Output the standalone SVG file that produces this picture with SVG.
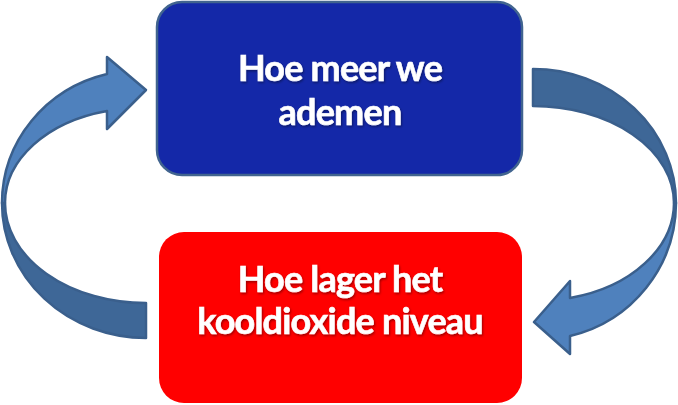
<svg xmlns="http://www.w3.org/2000/svg" width="678" height="405" viewBox="0 0 678 405">
<defs>
<style>
.light{fill:#4F81BD;stroke:#3A5F8C;stroke-width:2.5;stroke-linejoin:round}
.dark{fill:#3E6797;stroke:#3A5F8C;stroke-width:2.5;stroke-linejoin:round}
.lbl{font-family:Lato,"Liberation Sans",sans-serif;font-weight:700;font-size:36px;letter-spacing:-0.8px;fill:#FFFFFF;stroke:#FFFFFF;stroke-width:0.6px;text-anchor:middle}
</style>
<filter id="sh" x="-10%" y="-30%" width="120%" height="160%">
<feDropShadow dx="1" dy="1.5" stdDeviation="1" flood-color="#000000" flood-opacity="0.4"/>
</filter>
</defs>
<rect width="678" height="405" fill="#FFFFFF"/>
<g id="connectors">
<path class="dark" d="M 2 203 A 144 135 0 0 0 146 338 L 146 303 A 141 100 0 0 1 5 203 Z"/>
<path class="light" d="M 2 203 A 138 133 0 0 1 107 74 L 107 57 L 146 90 L 107 129 L 107 111 A 135 95 0 0 0 5 203 Z"/>
<path class="dark" d="M 533 69 A 143 134 0 0 1 676 203 L 674 203 A 141 97 0 0 0 533 106 Z"/>
<path class="light" d="M 676 203 A 138 137 0 0 1 570 336 L 570 354 L 534 322 L 570 281 L 570 298 A 136 98 0 0 0 674 203 Z"/>
</g>
<g id="node-ademen">
<rect x="157" y="2" width="365" height="173" rx="25" ry="25" fill="#1428A8" stroke="#41648F" stroke-width="2.5"/>
<text class="lbl" filter="url(#sh)"><tspan x="340" y="81">Hoe meer we</tspan><tspan x="340" y="125">ademen</tspan></text>
</g>
<g id="node-kooldioxide">
<rect x="159" y="232" width="363" height="171" rx="25" ry="25" fill="#FF0000"/>
<text class="lbl" filter="url(#sh)"><tspan x="340" y="292">Hoe lager het</tspan><tspan x="340" y="334">kooldioxide niveau</tspan></text>
</g>
</svg>
